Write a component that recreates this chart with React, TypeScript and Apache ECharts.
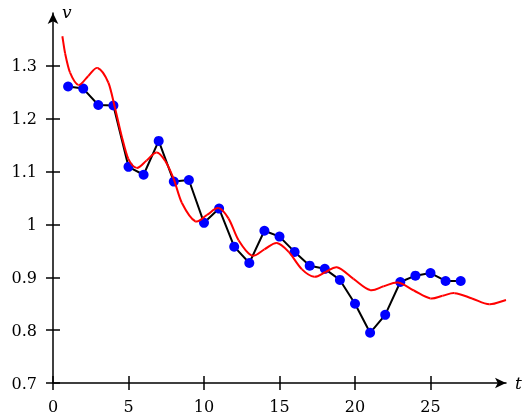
import React, { useEffect, useRef } from "react";
import * as echarts from "echarts";

const tValues = [1, 2, 3, 4, 5, 6, 7, 8, 9, 10, 11, 12, 13, 14, 15, 16, 17, 18, 19, 20, 21, 22, 23, 24, 25, 26, 27];
const vValues = [1.261, 1.257, 1.226, 1.225, 1.109, 1.094, 1.158, 1.081, 1.084, 1.003, 1.03, 0.958, 0.927, 0.988, 0.977, 0.948, 0.922, 0.916, 0.895, 0.85, 0.795, 0.829, 0.891, 0.903, 0.908, 0.893, 0.893];

const fitT = [0.62, 0.8, 1.13, 1.68, 2.34, 2.96, 3.67, 4.11, 4.55, 4.99, 5.55, 6.2, 6.87, 7.43, 7.98, 8.53, 9.42, 10.2, 10.96, 11.63, 12.29, 13.17, 14.0, 14.83, 15.61, 16.49, 17.3, 18.05, 18.81, 19.9, 21.0, 21.9, 22.85, 23.9, 25.0, 25.8, 26.6, 27.75, 28.9, 30.0];
const fitV = [1.356, 1.324, 1.287, 1.264, 1.281, 1.296, 1.268, 1.22, 1.167, 1.124, 1.107, 1.121, 1.136, 1.12, 1.087, 1.041, 1.006, 1.018, 1.031, 1.011, 0.97, 0.941, 0.953, 0.965, 0.948, 0.915, 0.901, 0.91, 0.919, 0.897, 0.876, 0.883, 0.89, 0.875, 0.86, 0.865, 0.87, 0.86, 0.849, 0.857];

const xTicks = [0, 5, 10, 15, 20, 25];
const yTicks = [0.7, 0.8, 0.9, 1.0, 1.1, 1.2, 1.3];

const FONT = "DejaVu Serif";

export default function App() {
  const ref = useRef<HTMLDivElement>(null);
  useEffect(() => {
    if (!ref.current) return;
    const chart = echarts.init(ref.current, undefined, { renderer: "svg" });
    const xBase = {
      type: "value",
      min: 0,
      max: 30,
      interval: 5,
      splitLine: { show: false },
    };
    const yBase = {
      type: "value",
      min: 0.7,
      max: 1.4,
      splitLine: { show: false },
    };
    const tickStyle = { color: "#000", width: 1.5 };
    const n = fitT.length;
    chart.setOption({
      animation: false,
      grid: { left: 53, right: 24, top: 13, bottom: 33, containLabel: false, outerBoundsMode: "none" },
      xAxis: [
        {
          ...xBase,
          position: "bottom",
          name: "t",
          nameLocation: "end",
          nameGap: 9,
          nameTextStyle: { fontFamily: FONT, fontStyle: "italic", fontSize: 17, color: "#000", verticalAlign: "middle" },
          axisLine: { show: true, onZero: false, symbol: ["none", "arrow"], symbolSize: [8, 11], lineStyle: tickStyle },
          axisTick: { show: true, inside: false, length: 7, customValues: xTicks, lineStyle: tickStyle },
          axisLabel: { show: true, margin: 15, customValues: xTicks, fontFamily: FONT, fontSize: 16, color: "#000" },
        },
        {
          ...xBase,
          position: "bottom",
          axisLine: { show: false, onZero: false },
          axisTick: { show: true, inside: true, length: 7, customValues: xTicks, lineStyle: tickStyle },
          axisLabel: { show: false },
        },
      ],
      yAxis: [
        {
          ...yBase,
          position: "left",
          name: "v",
          nameLocation: "end",
          nameGap: 1,
          nameTextStyle: { fontFamily: FONT, fontStyle: "italic", fontSize: 17, color: "#000", align: "left", verticalAlign: "middle", padding: [0, 0, 0, 9] },
          axisLine: { show: true, onZero: false, symbol: ["none", "arrow"], symbolSize: [8, 11], lineStyle: tickStyle },
          axisTick: { show: true, inside: false, length: 7, customValues: yTicks, lineStyle: tickStyle },
          axisLabel: {
            show: true,
            margin: 16,
            customValues: yTicks,
            fontFamily: FONT,
            fontSize: 16,
            color: "#000",
            formatter: (v: number) => String(Math.round(v * 10) / 10),
          },
        },
        {
          ...yBase,
          position: "left",
          axisLine: { show: false, onZero: false },
          axisTick: { show: true, inside: true, length: 7, customValues: yTicks, lineStyle: tickStyle },
          axisLabel: { show: false },
        },
      ],
      series: [
        {
          type: "line",
          xAxisIndex: 0,
          yAxisIndex: 0,
          data: tValues.map((t, i) => [t, vValues[i]]),
          symbol: "circle",
          symbolSize: 10,
          itemStyle: { color: "#0000ff" },
          lineStyle: { color: "#000", width: 2 },
          z: 2,
        },
        {
          type: "custom",
          xAxisIndex: 0,
          yAxisIndex: 0,
          silent: true,
          data: fitT.map((t, i) => [t, fitV[i]]),
          renderItem: (params: any, api: any) => {
            const i = params.dataIndex;
            if (i >= n - 1) return { type: "group", children: [] };
            const P = (k: number) => api.coord([fitT[k], fitV[k]]);
            const slope = (k: number) => {
              const a = P(Math.max(k - 1, 0));
              const b = P(Math.min(k + 1, n - 1));
              return (b[1] - a[1]) / (b[0] - a[0]);
            };
            const p1 = P(i);
            const p2 = P(i + 1);
            const h = p2[0] - p1[0];
            return {
              type: "bezierCurve",
              shape: {
                x1: p1[0],
                y1: p1[1],
                cpx1: p1[0] + h / 3,
                cpy1: p1[1] + (slope(i) * h) / 3,
                cpx2: p2[0] - h / 3,
                cpy2: p2[1] - (slope(i + 1) * h) / 3,
                x2: p2[0],
                y2: p2[1],
              },
              style: { stroke: "#ff0000", lineWidth: 2, fill: "none" },
            };
          },
          z: 3,
        },
      ],
    });
    return () => chart.dispose();
  }, []);
  return <div ref={ref} style={{ position: "fixed", left: 0, top: 0, width: 530, height: 416 }} />;
}
